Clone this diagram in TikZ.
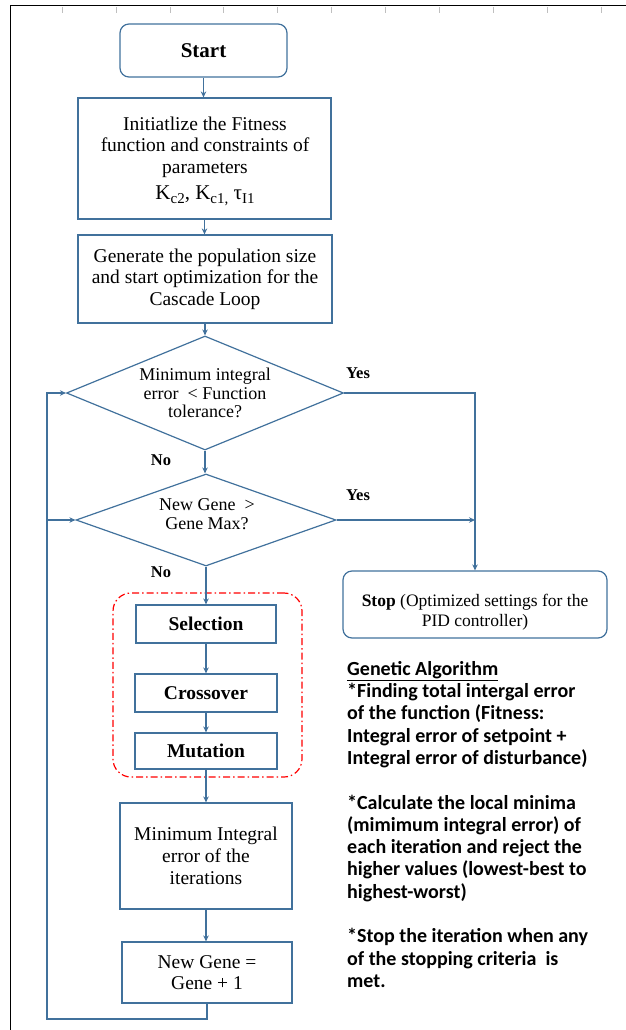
\documentclass[tikz,border=0pt]{standalone}
\usepackage{fontspec}
\setmainfont{Liberation Serif}
\newfontfamily\calib{Carlito}
\usetikzlibrary{shapes.geometric,arrows.meta}
\definecolor{bl}{HTML}{41719C}
\newcommand{\fsz}[2]{\fontsize{#1}{#2}\selectfont}
\newcommand{\bigsub}[1]{\raisebox{-0.35ex}{\fsz{15}{15}#1}}
\begin{document}
\begin{tikzpicture}[x=1pt,y=-1pt,
  box/.style={draw=bl, line width=1.2pt, inner sep=0pt, align=center},
  rbox/.style={box, rounded corners=9pt},
  dia/.style={diamond, draw=bl, line width=1.2pt, inner sep=0pt},
  txt/.style={inner sep=0pt, align=center, font=\fsz{19.5}{21.5}},
  dtxt/.style={inner sep=0pt, align=center, font=\fsz{18}{18.5}},
  lab/.style={inner sep=0pt, font=\fsz{16.5}{18}\bfseries},
  conn/.style={draw=bl, line width=1.2pt},
  arr/.style={conn, -{Stealth[length=6pt,width=5.5pt]}}
]
\useasboundingbox (0,0) rectangle (626,1030);
% frame and ruler ticks
\draw[line width=1.8pt] (10.5,1030) -- (10.5,5.5) -- (626,5.5);
\foreach \x in {62,116,170,223,277,331,385,439,493,547,601}
  \draw[black!25, line width=0.9pt] (\x,7) -- (\x,13);

% nodes
\node[rbox, minimum width=167pt, minimum height=53pt, font=\fsz{21}{23}\bfseries] (start) at (203.5,50.5) {Start};
\node[box, minimum width=253pt, minimum height=121pt] (init) at (204.5,158.5) {};
\node[txt] (initt) at (205,161) {Initiatlize the Fitness\\function and constraints of\\parameters\\[5pt]{\fsz{21}{22}K\bigsub{c2}, K\bigsub{c1,} τ\bigsub{I1}}};
\node[box, minimum width=254pt, minimum height=88pt, font=\fsz{19.5}{21.5}] (gen) at (205,279) {Generate the population size\\and start optimization for the\\Cascade Loop};
\node[dia, minimum width=277pt, minimum height=114pt] (d1) at (205,393) {};
\node[dtxt] (d1t) at (205,393) {Minimum integral\\error~~< Function\\tolerance?};
\node[dia, minimum width=260pt, minimum height=92pt] (d2) at (206,520) {};
\node[dtxt] (d2t) at (207,514) {New Gene~~>\\Gene Max?};
\node[box, minimum width=140pt, minimum height=38pt, font=\fsz{19.5}{21.5}\bfseries] (sel) at (206,624) {Selection};
\node[box, minimum width=142pt, minimum height=38pt, font=\fsz{19.5}{21.5}\bfseries] (cross) at (206,693) {Crossover};
\node[box, minimum width=142pt, minimum height=36pt, font=\fsz{19.5}{21.5}\bfseries] (mut) at (206,751) {Mutation};
\node[draw=red, line width=1.2pt, dash pattern=on 7pt off 3pt on 1.5pt off 3pt, rounded corners=18pt, minimum width=189pt, minimum height=184pt, inner sep=0pt] (ga) at (207.5,685) {};
\node[box, minimum width=172pt, minimum height=106pt, font=\fsz{19.5}{22}] (minint) at (206,856) {Minimum Integral\\error of the\\iterations};
\node[box, minimum width=170pt, minimum height=61pt, font=\fsz{19.5}{21}] (newg) at (207,972.5) {New Gene =\\Gene + 1};
\node[rbox, minimum width=264pt, minimum height=67pt] (stop) at (475,604.5) {};
\node[inner sep=0pt, align=center, font=\fsz{17.5}{19.5}] (stopt) at (475,612) {\textbf{Stop} (Optimized settings for the\\PID controller)};

% labels
\node[lab] (y1) at (358,373) {Yes};
\node[lab] (y2) at (358,495) {Yes};
\node[lab] (n1) at (161,460) {No};
\node[lab] (n2) at (161,572) {No};

% text block
\node[inner sep=0pt, anchor=north west, align=left, font=\calib\bfseries\fsz{20}{22.3}] (notes) at (347,661) {\underline{Genetic Algorithm}\\
*Finding total intergal error\\
of the function (Fitness:\\
Integral error of setpoint +\\
Integral error of disturbance)\\
\mbox{}\\
*Calculate the local minima\\
(mimimum integral error) of\\
each iteration and reject the\\
higher values (lowest-best to\\
highest-worst)\\
\mbox{}\\
*Stop the iteration when any\\
of the stopping criteria~~is\\
met.};

% connectors
\draw[arr] (start.south) -- (start.south |- init.north);
\draw[arr] (init.south) -- (init.south |- gen.north);
\draw[arr] (gen.south) -- (gen.south |- d1.north);
\draw[arr] (d1.south) -- (d1.south |- d2.north);
\draw[arr] (d2.south) -- (d2.south |- sel.north);
\draw[arr] (sel.south) -- (sel.south |- cross.north);
\draw[arr] (cross.south) -- (cross.south |- mut.north);
\draw[arr] (mut.south) -- (mut.south |- minint.north);
\draw[arr] (minint.south) -- (minint.south |- newg.north);
\draw[arr] (d1.east) -| (stop.north);
\coordinate (yj) at (stop.north |- d2.east);
\draw[arr] (d2.east) -- (yj);
\coordinate (lc) at (47,1019);
\draw[arr] (newg.south) |- (lc) |- (d1.west);
\coordinate (j2) at (lc |- d2.west);
\draw[arr] (j2) -- (d2.west);
\end{tikzpicture}
\end{document}
